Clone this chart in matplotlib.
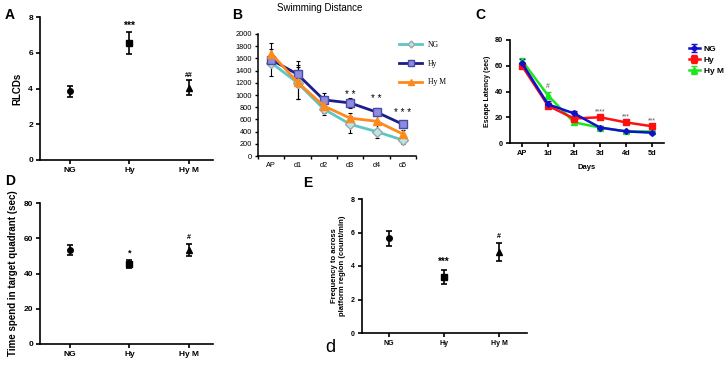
import matplotlib
matplotlib.use("Agg")
import matplotlib.pyplot as plt

# ---- data ----
groups = ["NG", "Hy", "Hy M"]

rlcd_mean = [3.85, 6.55, 4.05]
rlcd_err = [0.3, 0.6, 0.4]
rlcd_sig = ["", "***", "##"]

days_b = ["AP", "d1", "d2", "d3", "d4", "d5"]
swim_ng = [1530, 1200, 770, 520, 400, 260]
swim_hy = [1580, 1340, 920, 870, 720, 520]
swim_hym = [1680, 1210, 820, 620, 570, 360]
swim_ng_err = [220, 260, 90, 140, 110, 70]
swim_hy_err = [60, 210, 120, 80, 60, 60]
swim_hym_err = [180, 280, 110, 90, 120, 60]
swim_sig = ["", "", "", "* *", "* *", "* * *"]
swim_sig_y = [0, 0, 0, 1000, 930, 700]

days_c = ["AP", "1d", "2d", "3d", "4d", "5d"]
lat_ng = [62, 30, 23, 12, 9, 8]
lat_hy = [60, 29, 19, 20, 16, 13]
lat_hym = [64, 37, 16, 12, 9, 9]
lat_ng_err = [3, 3, 2, 1, 1, 1]
lat_hy_err = [2, 2, 2, 1.5, 1.5, 1]
lat_hym_err = [2, 3, 1, 1, 1, 1]
lat_sig = ["", "#", "", "****", "***", "***"]
lat_sig_y = [0, 44, 0, 24, 20, 17]

quad_mean = [53.5, 45.5, 53.5]
quad_err = [2.8, 2.2, 3.5]
quad_sig = ["", "*", "#"]

freq_mean = [5.65, 3.35, 4.85]
freq_err = [0.45, 0.43, 0.55]
freq_sig = ["", "***", "#"]

W, H = 728, 367
FONT = "Liberation Sans"
plt.rcParams["font.family"] = FONT

fig = plt.figure(figsize=(W / 100, H / 100), dpi=100)


def px_axes(x0, y0, x1, y1):
    '''axes from pixel box (top-left origin)'''
    return fig.add_axes([x0 / W, 1 - y1 / H, (x1 - x0) / W, (y1 - y0) / H])


def style_axes(ax, tick_size):
    ax.spines["right"].set_visible(False)
    ax.spines["top"].set_visible(False)
    for s in ("left", "bottom"):
        ax.spines[s].set_linewidth(1.2)
    ax.tick_params(direction="out", length=3, width=1.2, labelsize=tick_size, pad=2)
    for lab in ax.get_xticklabels() + ax.get_yticklabels():
        lab.set_fontweight("bold")


def dot_panel(ax, means, errs, sigs, ymax, yticks, ylabel, ylab_size, xlim, sig_off, sig_size):
    markers = ["o", "s", "^"]
    for i, (m, e) in enumerate(zip(means, errs)):
        ax.errorbar(i, m, yerr=e, fmt=markers[i], color="black", ms=4,
                    capsize=2.5, elinewidth=1.2, capthick=1.2)
        if sigs[i]:
            size = sig_size if "*" in sigs[i] else 5
            ax.text(i, m + e + sig_off, sigs[i], ha="center", va="bottom",
                    fontsize=size, fontweight="bold")
    ax.set_xlim(*xlim)
    ax.set_ylim(0, ymax)
    ax.set_yticks(yticks)
    ax.set_xticks(range(len(groups)))
    ax.set_xticklabels(groups)
    ax.set_ylabel(ylabel, fontsize=ylab_size, fontweight="bold", labelpad=4)
    style_axes(ax, 6)


# ---- A ----
axA = px_axes(40, 17, 213, 160)
dot_panel(axA, rlcd_mean, rlcd_err, rlcd_sig, 8, [0, 2, 4, 6, 8], "RLCDs", 7,
          (-0.5, 2.4), 0.1, 7.5)
fig.text(5 / W, 1 - 15 / H, "A", fontsize=10, fontweight="bold", va="center")

# ---- D ----
axD = px_axes(40, 203, 213, 344)
dot_panel(axD, quad_mean, quad_err, quad_sig, 80, [0, 20, 40, 60, 80],
          "Time spend in target quadrant (sec)", 7, (-0.5, 2.4), 1.5, 6.5)
fig.text(5 / W, 1 - 181 / H, "D", fontsize=10, fontweight="bold", va="center")

# ---- E ----
axE = px_axes(362, 199, 527, 333)
dot_panel(axE, freq_mean, freq_err, freq_sig, 8, [0, 2, 4, 6, 8],
          "Frequency to across\nplatform region (count/min)", 5.5, (-0.49, 2.51), 0.15, 7)
axE.tick_params(labelsize=5)
fig.text(303 / W, 1 - 183 / H, "E", fontsize=10, fontweight="bold", va="center")
fig.text(330 / W, 1 - 347 / H, "d", fontsize=13, va="center", ha="center")

# ---- B ----
axB = px_axes(258, 34, 416, 156)
xb = list(range(len(days_b)))
eb = dict(ecolor="black", elinewidth=0.8, capsize=1.5, capthick=0.8)
axB.errorbar(xb, swim_ng, yerr=swim_ng_err, color="#5cc6c8", lw=2, marker="D", ms=5,
             mfc="#b8e6e8", mec="#9aa8a8", label="NG", **eb)
axB.errorbar(xb, swim_hy, yerr=swim_hy_err, color="#1c1c8a", lw=2, marker="s", ms=6,
             mfc="#8c8ce0", mec="#4a4aa8", label="Hy", **eb)
axB.errorbar(xb, swim_hym, yerr=swim_hym_err, color="#ff8a1c", lw=2, marker="^", ms=5.5,
             mfc="#ff8a1c", mec="#ff8a1c", label="Hy M", **eb)
for i, s in enumerate(swim_sig):
    if s:
        axB.text(i, swim_sig_y[i], s, ha="center", va="center", fontsize=7)
axB.set_xlim(-0.41, 5.5)
axB.set_ylim(0, 2000)
axB.set_yticks(range(0, 2001, 200))
axB.set_xticks(xb)
axB.set_xticklabels(days_b)
axB.set_xticks([i + 0.5 for i in range(-1, 6)], minor=True)
axB.tick_params(axis="x", which="major", length=0, labelsize=5.3, pad=4)
axB.tick_params(axis="x", which="minor", length=2.5, width=1)
axB.tick_params(axis="y", length=2.5, width=1, labelsize=5.3, pad=2)
axB.spines["right"].set_visible(False)
axB.spines["top"].set_visible(False)
axB.spines["left"].set_linewidth(1.1)
axB.spines["bottom"].set_linewidth(1.1)
fig.text(320 / W, 1 - 8 / H, "Swimming Distance", fontsize=7, ha="center", va="center")
fig.text(232 / W, 1 - 15 / H, "B", fontsize=10, fontweight="bold", va="center")
hb, lb = axB.get_legend_handles_labels()
axB.legend([h[0] for h in hb], lb, loc="upper left", bbox_to_anchor=(0.85, 1.0),
           frameon=False, prop={"family": "Liberation Serif", "size": 5.5},
           handlelength=3, labelspacing=1.4, markerscale=0.7)

# ---- C ----
axC = px_axes(510, 40, 664, 143)
xc = list(range(len(days_c)))
axC.errorbar(xc, lat_hym, yerr=lat_hym_err, color="#1ee61e", lw=1.8, marker="^", ms=4.5,
             capsize=2, elinewidth=1, label="Hy M")
axC.errorbar(xc, lat_hy, yerr=lat_hy_err, color="#ff1010", lw=1.8, marker="s", ms=4.5,
             capsize=2, elinewidth=1, label="Hy")
axC.errorbar(xc, lat_ng, yerr=lat_ng_err, color="#1010cc", lw=1.8, marker="D", ms=3,
             capsize=2, elinewidth=1, label="NG")
for i, s in enumerate(lat_sig):
    if s:
        axC.text(i, lat_sig_y[i], s, ha="center", va="center", fontsize=5, color="#555555")
axC.set_xlim(-0.46, 5.46)
axC.set_ylim(0, 80)
axC.set_yticks([0, 20, 40, 60, 80])
axC.set_xticks(xc)
axC.set_xticklabels(days_c)
style_axes(axC, 5.3)
axC.set_xlabel("Days", fontsize=5.5, fontweight="bold", labelpad=5)
axC.set_ylabel("Escape Latency (sec)", fontsize=5, fontweight="bold", labelpad=3)
fig.text(475 / W, 1 - 15 / H, "C", fontsize=10, fontweight="bold", va="center")
hc, lc = axC.get_legend_handles_labels()
order = [2, 1, 0]
axC.legend([hc[k] for k in order], [lc[k] for k in order], loc="upper left",
           bbox_to_anchor=(1.14, 0.98), frameon=False,
           prop={"family": FONT, "size": 6, "weight": "bold"},
           handlelength=1.3, handletextpad=0.5, labelspacing=0.35, borderaxespad=0)

fig.savefig("out.png", dpi=100)
